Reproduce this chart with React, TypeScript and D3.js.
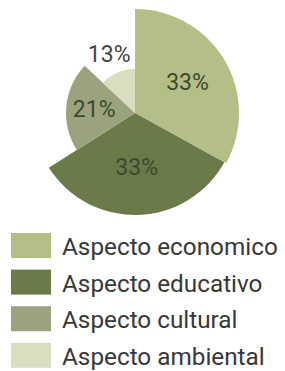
import React from "react";
import * as d3 from "d3";

const categories = ["Aspecto economico", "Aspecto educativo", "Aspecto cultural", "Aspecto ambiental"];
const values = [33, 33, 21, 13];
const labels = ["33%", "33%", "21%", "13%"];
const radii = [104, 102, 69, 44];
const colors = ["#b4be87", "#6b7a49", "#9aa37d", "#d8dec0"];
const labelRadii = [61, 54, 41, 65];

export default function App() {
  const W = 285, H = 371;
  const cx = 135, cy = 113;
  const pie = d3.pie<number>().sort(null).value((d) => d);
  const arcs = pie(values);
  const arcGen = d3.arc<d3.PieArcDatum<number>>().innerRadius(0);

  return (
    <svg width={W} height={H} style={{ position: "absolute", left: 0, top: 0, background: "#fff" }}
      fontFamily="Roboto, sans-serif">
      <g transform={`translate(${cx},${cy})`}>
        {arcs.map((a, i) => (
          <path key={i} d={arcGen.outerRadius(radii[i])(a) || ""} fill={colors[i]} />
        ))}
        {arcs.map((a, i) => {
          const [x, y] = d3.arc<d3.PieArcDatum<number>>().innerRadius(labelRadii[i]).outerRadius(labelRadii[i]).centroid(a);
          return (
            <text key={i} x={x} y={y} dy="0.36em" textAnchor="middle" fontSize={23}
              fill={i === 3 ? "#444" : "#3b4a2c"}>{labels[i]}</text>
          );
        })}
      </g>
      <g>
        {categories.map((c, i) => {
          const base = 255 + i * 36.6;
          return (
            <g key={c}>
              <rect x={11} y={base - 22} width={40} height={25} fill={colors[i]} />
              <text x={62} y={base} fontSize={24.3} fill="#383838">{c}</text>
            </g>
          );
        })}
      </g>
    </svg>
  );
}
